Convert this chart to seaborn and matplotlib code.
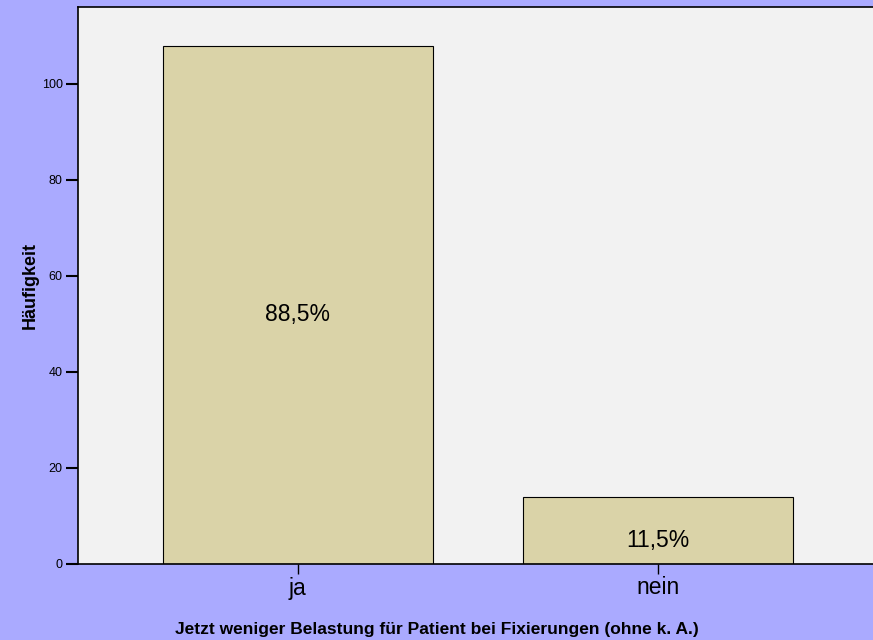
import matplotlib
matplotlib.use("Agg")
import matplotlib.pyplot as plt
import seaborn as sns
import pandas as pd

# data
categories = ["ja", "nein"]
counts = [108, 14]
percent_labels = ["88,5%", "11,5%"]

df = pd.DataFrame({"antwort": categories, "haeufigkeit": counts})

sns.set_style("ticks")
plt.rcParams["font.family"] = ["Liberation Sans", "DejaVu Sans"]

fig = plt.figure(figsize=(8.73, 6.4), dpi=100, facecolor="#AAAAFF")
ax = fig.add_axes([0.0893, 0.11875, 0.92, 0.87])
ax.set_facecolor("#F2F2F2")

sns.barplot(data=df, x="antwort", y="haeufigkeit", color="#DAD3A8",
            saturation=1, width=0.75, edgecolor="black", linewidth=0.8, ax=ax)

# percentage labels inside bars
for i, (c, lab) in enumerate(zip(counts, percent_labels)):
    ax.text(i, c / 2 - 2, lab, ha="center", va="center",
            fontsize=16.5, color="black")

ax.set_ylim(0, 116)
ax.set_xlim(-0.61, 1.62)
ax.set_yticks([0, 20, 40, 60, 80, 100])
ax.tick_params(axis="y", length=9, width=1.5, labelsize=9, pad=2,
               color="black", labelcolor="black")
ax.tick_params(axis="x", length=7, width=1, labelsize=16.5, pad=2,
               color="black", labelcolor="black")

for s in ["left", "bottom", "top"]:
    ax.spines[s].set_linewidth(1.2)
    ax.spines[s].set_color("black")
ax.spines["right"].set_visible(False)

ax.set_ylabel("Häufigkeit", fontsize=13, fontweight="bold", labelpad=2, color="black")
ax.set_xlabel("Jetzt weniger Belastung für Patient bei Fixierungen (ohne k. A.)",
              fontsize=12.5, fontweight="bold", labelpad=16, color="black")
ax.xaxis.label.set_x(0.447)

fig.savefig("out.png", dpi=100, facecolor=fig.get_facecolor())
